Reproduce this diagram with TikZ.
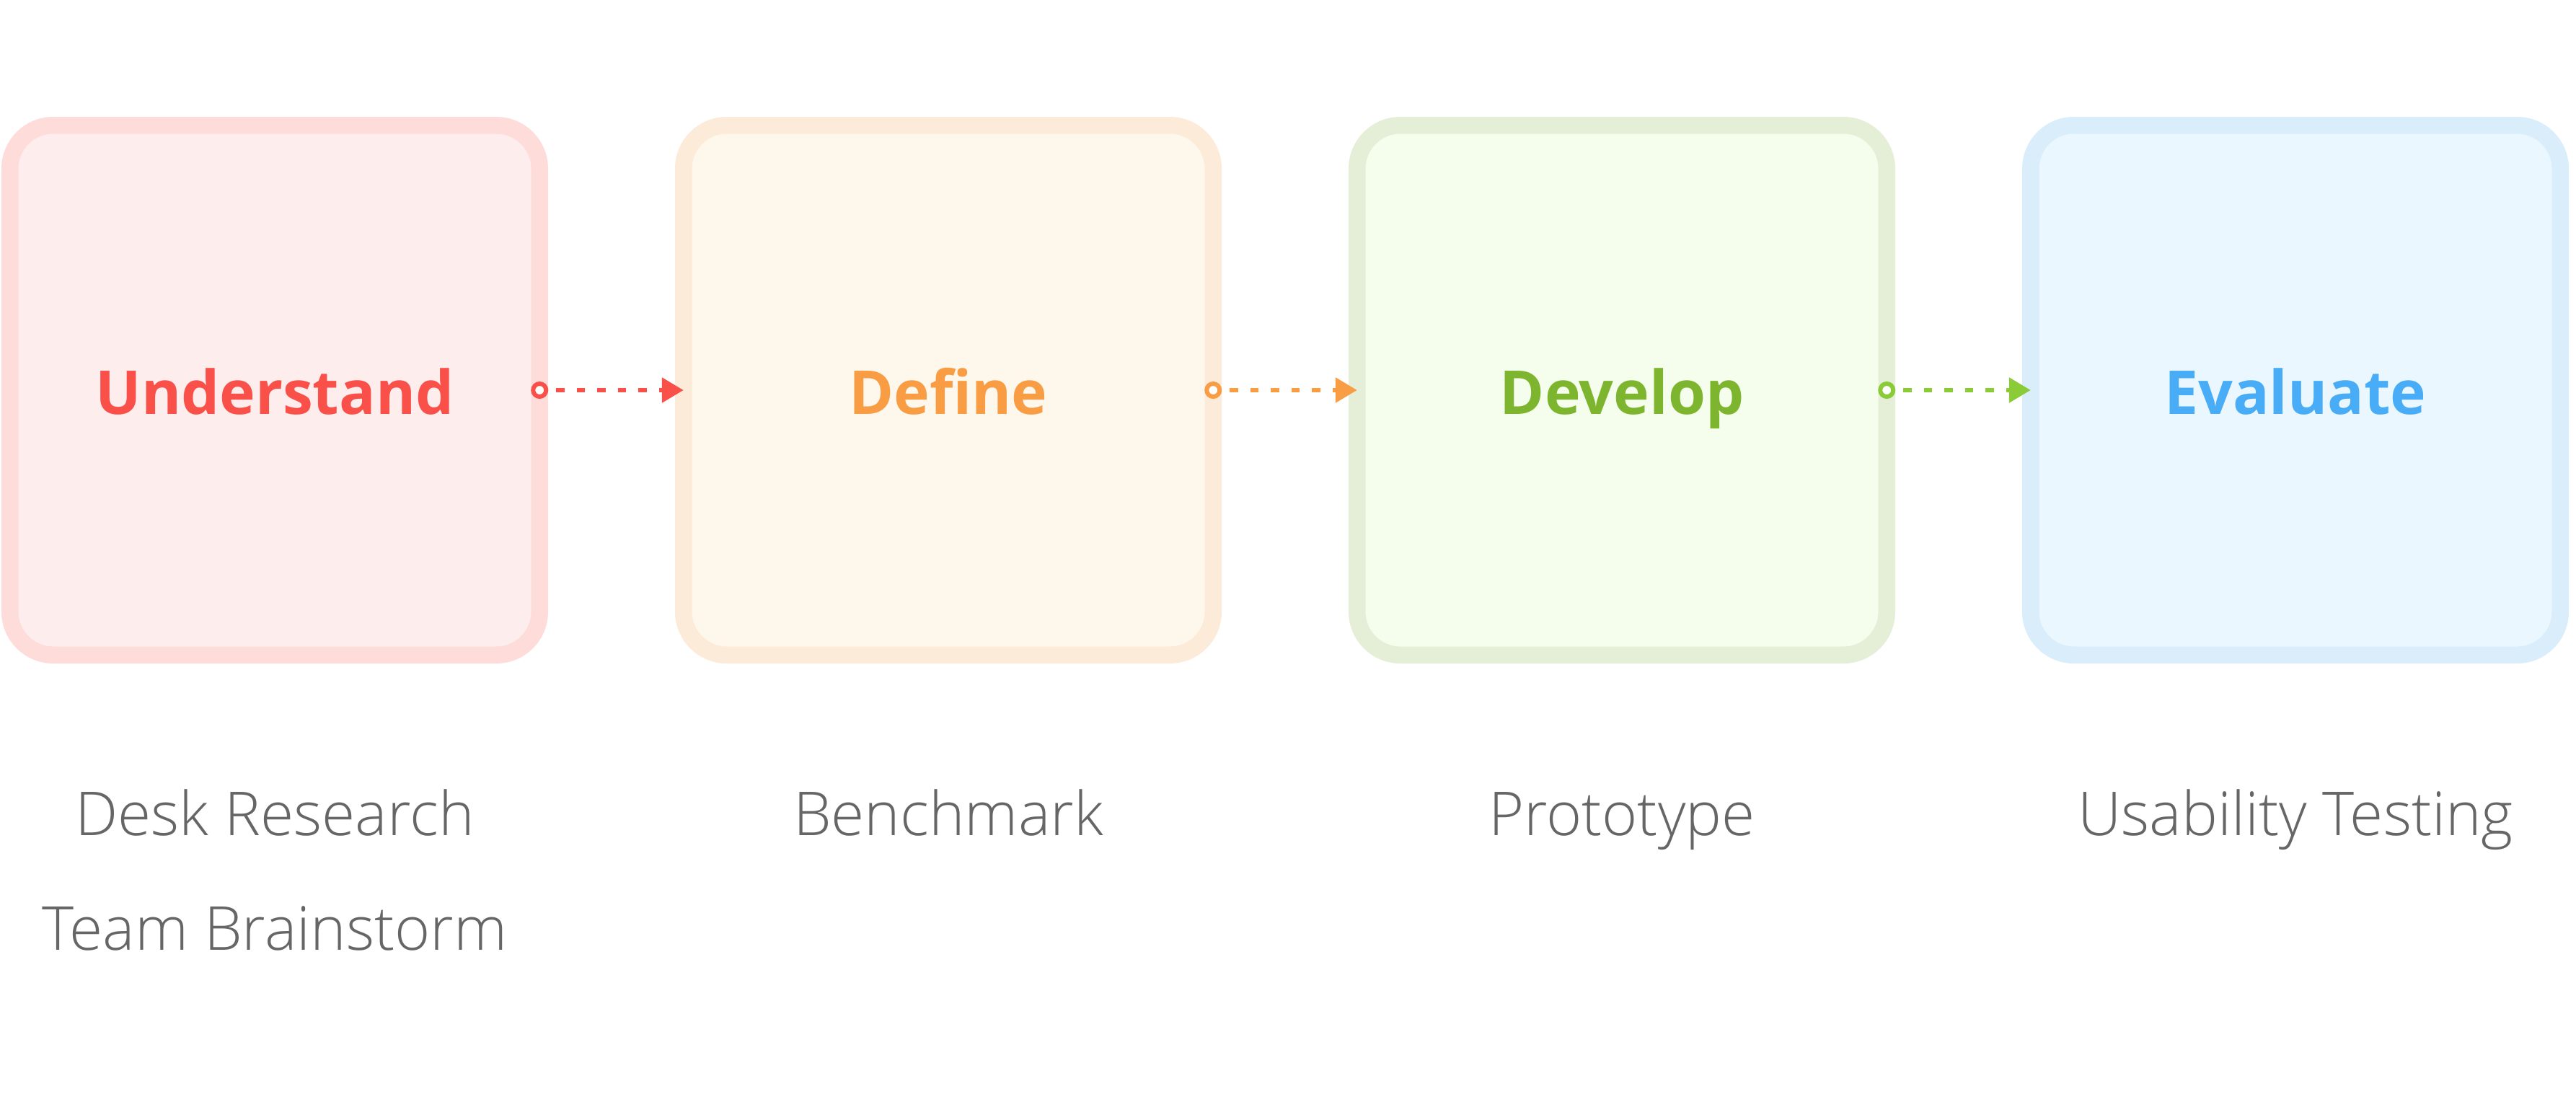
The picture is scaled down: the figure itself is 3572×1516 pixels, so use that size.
\documentclass[tikz,border=0pt]{standalone}
\usepackage{fontspec}
\setmainfont{Open Sans}
\newfontfamily\lightfont{Open Sans Light}
\usetikzlibrary{arrows.meta}
\definecolor{uBorder}{HTML}{FDDCDA}
\definecolor{uFill}{HTML}{FEEDED}
\definecolor{uText}{HTML}{F9514A}
\definecolor{dBorder}{HTML}{FDEBDA}
\definecolor{dFill}{HTML}{FEF7EC}
\definecolor{dText}{HTML}{F99D45}
\definecolor{vBorder}{HTML}{E5EFD7}
\definecolor{vFill}{HTML}{F5FEEC}
\definecolor{vText}{HTML}{7DB52F}
\definecolor{vArrow}{HTML}{8BCB38}
\definecolor{eBorder}{HTML}{D9EDFB}
\definecolor{eFill}{HTML}{EBF7FE}
\definecolor{eText}{HTML}{48ADF6}
\definecolor{labelGray}{HTML}{666666}
\tikzset{
  stagebox/.style={draw, line width=23.5pt, rounded corners=60pt,
    minimum width=734.5pt, minimum height=734.5pt, inner sep=0pt, outer sep=0pt,
    text height=66pt, text depth=0pt,
    font=\fontsize{84pt}{100pt}\selectfont\bfseries},
  sublabel/.style={anchor=base, text=labelGray, inner sep=0pt,
    font=\fontsize{84pt}{100pt}\selectfont\lightfont},
  ring/.style={line width=6pt, fill=white},
  flow/.style={line width=6pt, dash pattern=on 11.4pt off 17.1pt, dash phase=17.5pt,
    -{Triangle[length=30pt, width=34pt]}}
}
\begin{document}
\begin{tikzpicture}[x=1pt, y=-1pt]
\useasboundingbox (0,0) rectangle (3572,1516);
\fill[white] (0,0) rectangle (3572,1516);
\node[stagebox, draw=uBorder, fill=uFill, text=uText] (u) at (381,541) {Understand};
\node[stagebox, draw=dBorder, fill=dFill, text=dText] (d) at (1315,541) {Define};
\node[stagebox, draw=vBorder, fill=vFill, text=vText] (v) at (2249,541) {Develop};
\node[stagebox, draw=eBorder, fill=eFill, text=eText] (e) at (3183,541) {Evaluate};
% connectors
\draw[flow, uText] ([xshift=12pt]u.east) -- (d.west);
\draw[ring, draw=uText] (u.east) circle (9pt);
\draw[flow, dText] ([xshift=12pt]d.east) -- (v.west);
\draw[ring, draw=dText] (d.east) circle (9pt);
\draw[flow, vArrow] ([xshift=12pt]v.east) -- (e.west);
\draw[ring, draw=vArrow] (v.east) circle (9pt);
% labels
\node[sublabel] (l1) at (381,1158) {Desk Research};
\node[sublabel] (l2) at (381,1317) {Team Brainstorm};
\node[sublabel] (l3) at (1315,1158) {Benchmark};
\node[sublabel] (l4) at (2249,1158) {Prototype};
\node[sublabel] (l5) at (3183,1158) {Usability Testing};
\end{tikzpicture}
\end{document}
